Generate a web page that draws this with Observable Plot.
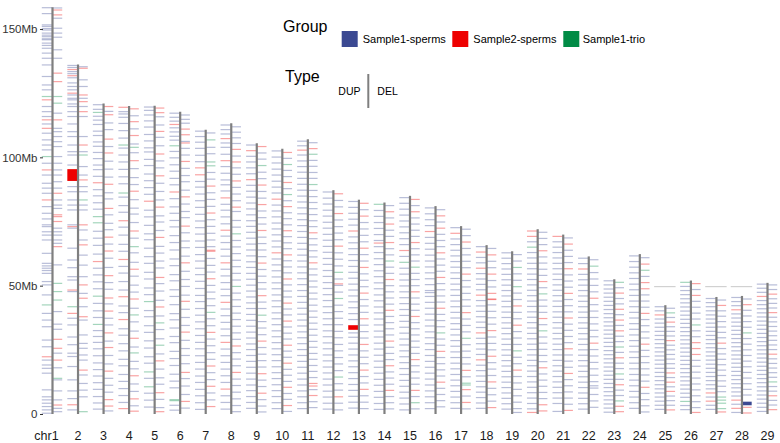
<!DOCTYPE html>
<html><head><meta charset="utf-8">
<script src="https://cdn.jsdelivr.net/npm/d3@7"></script>
<script src="https://cdn.jsdelivr.net/npm/@observablehq/plot@0.6"></script>
<style>
body{margin:0;background:#fff;font-family:"Liberation Sans",Arial,sans-serif}
#wrap{position:relative;width:780px;height:443px}
#legend{position:absolute;left:0;top:0}
</style></head><body><div id="wrap"></div>
<script>
const chromosomes = ["chr1","2","3","4","5","6","7","8","9","10","11","12","13","14","15","16","17","18","19","20","21","22","23","24","25","26","27","28","29"];
const chrLengths = [158.5,136.2,121.0,120.0,120.1,117.8,110.7,113.3,105.5,103.3,107.0,87.2,83.5,82.4,85.0,81.0,73.2,65.8,63.4,72.0,69.9,61.4,52.5,62.3,42.4,52.0,45.6,46.0,51.1];
const groups = ["Sample1-sperms","Sample2-sperms","Sample1-trio"];
const groupColors = ["#3B4992","#EE0000","#008B45"];
const groupCodes = {b:"Sample1-sperms", r:"Sample2-sperms", g:"Sample1-trio"};
const yTicks = [0,50,100,150];
const greyBandChrs = [25,27,28];
const greyBandPos = 49.8;

// CNV positions in Mb (start or start-end) + group code, left side = DUP
const dupMarks = [
"158.3b 156b 151.6b 151b 150.2b 149.6b 148.4b 147.6b 147b 146.2b 145.8b 144.5b 143.6b 142.5b 140.6b 138.6b 136b 131.5b 128.2b 126.3b 123.7g 122.4r 119.8b 117.8b 115.9b 114.6r 113b 111.3r 109.4b 106.8b 104.8b 102.9b 100.3g 97.7b 95.1r 93.1b 89.9b 88b 86b 83.4r 80.8b 78.2b 76b 73.7b 73b 71b 69.7b 67.8b 62.6b 58.7b 57.7b 56.8b 55.9b 54.8b 51.6b 50.3b 46.4b 42.5g 39.2b 36.6b 34b 28.8b 26.2b 22.3r 21b 19.1b 17.8b 15.9b 9.4b 6.7b 5.5b 4.2b 2.9b 1.6b 0.3b",
"135.8b 135b 134.2r 133.4b 132.6b 131.8r 131b 129b 127.6b 126.3b 125r 124.3b 123b 122.4b 120.8b 119.8b 117.8b 115.9b 113b 110b 108.1b 104.8b 102.2b 100.9b 97b 90.8-95.4r 88.6b 86.6b 83.4b 81.4b 79.5b 73.7b 73r 72.4b 64.6b 60b 57b 53.5b 52.2b 48.3r 47.7b 41.8g 39.2r 37.3b 34.7b 30b 27b 23.7b 22.4b 18.5b 13.3b 9b 6b 3.6r 1.6b",
"120.5b 118.7b 117.5g 116b 114.5b 112.8b 110.2b 108.5b 106b 104.3b 101.9b 99.5b 97b 95.2b 92.6b 90.1r 87.4b 85b 82.3b 79.8b 76.9g 74.5g 71.2b 68.5b 65.7b 62.3b 59.4r 56.8b 54.2b 51.5b 48.8b 45.9g 43.1b 40.2b 37.6b 34.9g 32.5b 30.2b 27.9b 25.4b 22.7b 19.9b 17.3b 14.8b 12.2b 9.6b 6.8b 4.3b 1.9b",
"119.5r 117.8b 116.9b 115.6b 113.2b 110.4b 107.5b 104.8g 103.6b 100.9b 98.2b 95.3b 92.4b 89.7b 86.1g 84.5b 81.2b 78.6b 75.3r 72.8b 69.7b 66.1b 63.4b 60.2r 57.5b 54.9b 51.6b 48.3b 45.7r 42.1b 39.5b 36.8r 33.2b 30.7b 27.4b 24.6b 21.3b 18.8b 15.4b 12.7b 9.9b 7.2b 4.5b 2.1r",
"119.6b 118.3b 116.5b 114.2b 111.8b 108.9b 106.4b 103.7b 102.1b 99.2b 96.8b 93.5b 90.9b 88.2b 85.6b 82.9r 79.4b 76.8b 73.5b 70.2b 67.9b 64.6b 61.3b 58.7b 55.2b 52.6b 49.1b 46.5b 43.8g 40.3b 37.9b 34.4b 31.8b 28.5b 25.7b 22.3b 19.8b 16.4g 13.9b 10.6g 8.1b 5.4b 2.7b",
"117.2b 115.6b 114.1b 112.8r 111.5b 109.9b 108.2b 106.7b 104.5g 102.3b 99.8b 97.1b 94.6b 91.8b 89.3b 86.5r 83.9b 80.7b 78.2b 75.4b 72.9b 69.5b 66.8b 63.9b 60.4b 57.8b 54.3b 51.9b 48.4b 45.8b 42.6b 39.1b 36.7b 33.5b 30.2b 27.8b 24.4b 21.6b 18.9b 15.5b 12.8b 10.2b 5.6g 5.2g 3.4b 1.5b",
"110.2b 108.1b 105.9b 103.5b 100.8b 98.3b 95.9r 93.2r 90.6b 88.4b 85.7b 83.1b 80.5b 77.8b 75.2b 72.6b 70.1b 67.4b 64.9b 62.1b 59.6b 56.8b 54.3b 51.7b 48.9b 46.2b 43.8b 41.1b 38.5b 35.9b 33.2b 30.6b 27.9b 25.4b 22.7b 20.1b 17.5b 14.8b 12.3b 9.6b 7.1b 4.4b 1.8b",
"112.6b 110.8b 109.1b 107.3r 105.6b 103.9b 101.2b 98.7r 96.4b 93.8b 91.2b 89.3b 86.9b 84.2r 81.7b 79.4b 76.8b 74.1b 71.6r 69.3b 66.8b 64.2b 61.5b 58.9r 56.4b 53.8b 51.2b 48.6b 46.1b 43.5r 40.9b 38.3b 35.7b 33.1b 30.5b 27.9r 25.3b 22.7b 20.1b 17.5b 14.9b 12.3b 9.7r 7.1b 4.5b 1.9b",
"104.8b 102.6r 100.4b 98.2b 95.9b 93.6b 91.3r 89.1b 86.8b 84.5b 82.2b 79.9b 77.6b 75.3b 73.1b 70.8b 68.5b 66.2b 63.9b 61.6b 59.3b 57.1b 54.8b 52.5b 50.2b 47.9b 45.6b 43.3b 41.1b 38.8b 36.5b 34.2b 31.9b 29.6b 27.3b 25.1b 22.8b 20.5b 18.2b 15.9b 13.6b 11.3b 9.1b 6.8b 4.5b 2.2b",
"102.5b 100.1b 97.8b 95.4b 93.1b 90.7b 88.4b 86.1b 83.7r 81.4b 79.1b 76.8b 74.4b 72.1b 69.8b 67.4b 65.1b 62.8r 60.4b 58.1b 55.8b 53.4b 51.1b 48.8b 46.4b 44.1b 41.8b 39.4b 37.1b 34.8b 32.4b 30.1b 27.8b 25.4b 23.1b 20.8b 18.4b 16.1b 13.8b 11.4b 9.1b 6.8b 4.4b 2.1b",
"106.3b 104.5b 102.8r 100.9b 98.6b 96.4b 94.2b 91.8b 89.5b 87.2b 84.9b 82.6b 80.3b 78b 75.7b 73.4b 71.1b 68.8b 66.5b 64.2b 61.9b 59.6b 57.3b 55b 52.7b 50.4b 48.1b 45.8b 43.5b 41.2b 38.9b 36.6b 34.3b 32b 29.7b 27.4b 25.1b 22.8b 20.5b 18.2b 15.9b 13.6b 11.3b 9b 6.7b 4.4b 2.1b",
"86.5b 84.1b 81.8b 79.4b 77.1b 74.7b 72.4b 70b 67.7b 65.3b 63b 60.6b 58.3b 55.9b 53.6b 51.2b 48.9b 46.5b 44.2b 41.8b 39.5b 37.1b 34.8b 32.4b 30.1b 27.7b 25.4b 23b 20.7b 18.3b 16b 13.6b 11.3b 8.9b 6.6b 4.2b 1.9b",
"82.8b 80.5b 78.2b 75.9b 73.6b 71.3r 69b 66.7b 64.4b 62.1b 59.8b 57.5b 55.2b 52.9b 50.6b 48.3b 46b 43.7b 41.4b 39.1b 36.8b 32.8-34.6r 31.6b 29.9b 27.6b 25.3b 23b 20.7b 18.4b 16.1b 13.8b 11.5b 9.2b 6.9b 4.6b 2.3b",
"81.7g 79.3b 77b 74.6b 72.3b 69.9b 67.6b 66.6r 65.2b 62.9b 60.5b 58.2b 55.8b 53.5b 51.1b 48.8b 46.4b 44.1b 41.7b 39.4b 37b 34.7b 32.3b 30b 27.6b 25.3b 22.9b 20.6b 18.2b 15.9b 13.5b 11.2b 8.8b 6.5b 4.1b 1.8b",
"84.3b 82.1b 79.8b 77.5b 75.2b 72.9b 70.6b 68.3b 66b 63.7r 61.4b 59.1g 56.8b 54.5b 52.2b 49.9b 47.6b 45.3b 43b 40.7b 38.4b 36.1b 33.8b 31.5b 29.2b 26.9b 24.6b 22.3b 20b 17.7b 15.4b 13.1b 10.8b 8.5b 6.2b 3.9b 1.6b",
"80.3b 78b 75.7b 73.4b 71.1r 68.8b 66.5b 64.2b 61.9b 59.6b 57.3b 55b 52.7b 50.4b 48.1b 47.3b 45.8b 43.5b 41.2b 38.9b 36.6b 34.3b 32b 29.7b 27.4b 25.1b 22.8b 20.5b 18.2b 15.9b 13.6b 11.3b 9b 6.7b 4.4b 2.1b",
"72.6b 70.4r 68.2b 66b 63.8b 61.6b 59.4b 57.2b 55b 52.8b 50.6b 48.4b 46.2b 44b 41.8b 39.6b 37.4b 35.2b 33b 30.8b 28.6b 26.4b 24.2b 22b 19.8b 17.6b 15.4b 13.2b 11b 8.8b 6.6b 4.4b 2.2b",
"65.2b 63.1r 61b 58.9b 56.8r 54.7b 52.6b 50.5b 48.4b 46.3r 44.2b 42.1b 40b 37.9b 35.8b 33.7b 31.6r 29.5b 27.4b 25.3b 23.2b 21.1r 19b 16.9b 14.8b 12.7b 10.6b 8.5b 6.4b 4.3b 2.2b",
"62.8b 60.7b 58.6b 56.5b 54.4b 52.3b 50.2b 48.1b 46b 43.9b 41.8b 39.7b 37.6b 35.5b 33.4b 31.3b 29.2b 27.1b 25b 22.9b 20.8b 18.7b 16.6b 14.5b 12.4b 10.3b 8.2b 6.1b 4b 1.9b",
"71.3r 69.2r 67.1b 65g 62.9b 60.8b 58.7b 56.6b 54.5b 52.4b 50.3b 48.2b 46.1b 44b 41.9b 39.8b 37.7b 35.6b 33.5b 31.4b 29.3b 27.2b 25.1b 23b 20.9b 18.8b 16.7b 14.6b 12.5b 10.4b 8.3b 6.2b 4.1b 2b 0.6r",
"69.2r 67.1b 65b 62.9b 60.8b 58.7b 56.6b 54.5b 52.4b 50.3b 48.2b 46.1b 44b 41.9b 39.8b 37.7b 35.6b 33.5b 31.4b 29.3b 27.2b 25.1b 23b 20.9b 18.8b 16.7b 14.6b 12.5b 10.4b 8.3b 6.2b 4.1b 1b",
"60.7b 58.6b 56.5r 54.4b 52.3b 50.2b 48.1b 46b 43.9b 41.8b 39.7b 37.6b 35.5b 33.4b 31.3b 29.2b 27.1b 25b 22.9b 20.8b 18.7b 16.6b 14.5b 12.4b 10.3b 8.2b 6.1b 4b 1.9b",
"51.9b 50.3b 48.7b 47.1b 45.5b 43.9b 42.3b 40.7b 39.1b 37.5b 35.9b 34.3b 32.7b 31.1b 29.5b 27.9b 26.3b 24.7b 23.1b 21.5b 19.9b 18.3b 16.7b 15.1b 13.5b 11.9b 10.3b 8.7b 7.1b 5.5b 3.9b 2.3b 0.7b",
"61.6b 59.4b 57.2b 55b 52.8b 50.6b 48.4b 46.2b 44b 41.8b 39.6b 37.4b 35.2b 33b 30.8b 28.6b 26.4b 24.2b 22b 19.8b 17.6b 15.4b 13.2b 11b 8.8b 6.6b 4.4b 2.2b",
"41.8b 40.2b 38.6r 37b 35.4b 33.8b 32.2b 30.6b 29b 27.4b 25.8b 24.2b 22.6b 21b 19.4b 17.8b 16.2b 14.6b 13b 11.4b 9.8b 8.2b 6.6b 5b 3.4b 1.8b",
"51.3g 49.7b 48.1b 46.5b 44.9b 43.3b 41.7b 40.1b 38.5b 36.9b 35.3b 33.7b 32.1b 30.5b 28.9b 27.3b 25.7b 24.1b 22.5b 20.9b 19.3b 17.7b 16.1b 14.5b 12.9b 11.3b 9.7b 8.1b 6.5b 4.9g 3.3b 1.7b",
"45b 43.4b 41.8b 40.2b 38.6b 37b 35.4b 33.8b 32.2b 30.6b 29b 27.4b 25.8b 24.2b 22.6b 21b 19.4b 17.8b 16.2b 14.6b 13b 11.4b 9.8b 8.2r 6.6b 5r 3.4b 1.8b",
"45.4b 43.8b 42.2b 40.6r 39b 37.4b 35.8b 34.2b 32.6b 31b 29.4b 27.8b 26.2b 24.6b 23b 21.4b 19.8b 18.2b 16.6b 15b 13.4b 11.8b 10.2b 8.6b 7b 5.4r 3.8b 2.2r 0.6b",
"50.6b 49b 47.4b 45.8r 44.2b 42.6b 41b 39.4b 37.8b 36.2b 34.6b 33b 31.4b 29.8b 28.2b 26.6b 25b 23.4b 21.8b 20.2b 18.6b 17b 15.4b 13.8b 12.2b 10.6b 9b 7.4b 5.8b 4.2b 2.6b 1b"
];
// right side = DEL
const delMarks = [
"158.2b 157.4r 155.5r 154.2b 150.3b 148.4b 146.8b 141.9b 138.6b 132.8r 129.5r 123.7g 121.1g 117.2b 114.6r 111.3b 110b 108.1b 106.1b 104.2b 100.3b 97.7b 95.1b 93.1b 90.5b 88b 86r 83.4b 81.4b 80.1b 77.6r 76.9r 75r 72.4b 71b 69.7b 67.8b 66.5b 65.2r 58.1b 50.9g 47.7g 44.4g 39.9b 35b 33b 29.1r 25.6r 23.7b 21r 18b 13.9g 13.3b 9b 5.5b 3.5r 2.2b 0.9b",
"135.3b 134.7r 130.2b 127.6b 124.3r 123b 121.7r 119.8b 117.8r 115.9b 108.1b 104.8r 102.2b 100.9g 96.4b 93.1b 91.2r 88.6b 86.6b 83.4g 81.4b 79.5b 73.7r 71.7b 67.8b 65.9r 61.9b 58b 53.5b 50.3r 47b 45.1r 41.8b 37.9r 36.6b 30.8b 27.5b 25.6b 23b 21b 17.1r 15.2b 11.9b 9.3b 6.7b 0.9g",
"119.8r 117.9b 116.6r 113.4b 110.8b 107.1r 104.2b 101.7r 98.5b 95.4b 92.3b 89.5r 86.2b 83.8b 80.1r 77.6b 74.3b 71.8b 68.9r 66.2b 63.5r 60.7b 57.1b 53.9r 51.2b 48.6b 45.2r 42.9b 40.1r 37.3b 34.7b 31.6r 28.4b 25.9r 22.8b 19.5b 16.7r 13.9b 11.2b 8.5b 5.6r 3.1r 1.2b",
"118.9r 116.2b 113.9r 111.1b 108.5r 105.2b 103.9g 101.8b 98.7r 95.6b 92.1b 89.4b 86.8r 83.5b 80.2b 77.9b 74.6b 71.3r 68.5b 65.2g 62.8b 59.1b 56.4r 53.7b 50.2b 47.5b 44.8r 41.2b 38.6g 35.9b 32.3b 29.5r 26.1b 23.8g 20.5b 17.6b 14.9r 11.7b 8.8b 5.9r 3.2b 1.1r",
"119.2r 117.4r 115.8b 112.6b 110.1r 107.8b 104.5b 101.3r 98.6b 95.9b 92.8r 89.9b 86.7b 83.4b 80.6r 77.2b 74.8b 71.5b 68.8r 65.3b 62.7b 59.6b 56.9b 53.2r 50.8b 47.9b 44.3b 41.7r 38.2b 35.5g 32.9b 29.3b 26.8g 23.4b 20.7r 17.5b 14.1b 11.6b 8.3r 5.7b 2.5b 0.9r",
"116.5b 114.8b 113.3b 111r 108.8r 106.2b 105.6r 103.5b 100.9b 98.4r 95.7b 92.9b 90.5b 87.2b 84.6r 81.8b 78.9b 76.5b 73.2r 70.6b 67.4b 64.8b 61.5b 58.9r 55.6b 52.4b 49.7b 46.3b 43.9r 40.8b 37.6b 34.5b 31.9r 28.7b 25.5b 22.8b 19.6b 16.2r 13.8b 10.9b 7.6b 4.9r 2.3b",
"109.5b 106.8g 103.9b 101.4b 98.2g 96.7g 94.1b 91.5b 88.8r 86.2b 83.6b 80.9b 78.3r 75.7b 73.1b 70.4b 67.8b 65.2b 63.8r 63.4r 60.6b 57.9b 55.3b 52.7r 50.1b 47.5b 44.9b 42.2b 39.6g 37.1b 34.4b 31.8r 29.2b 26.6b 23.9b 21.3b 18.7r 16.1b 13.4b 10.8r 8.2b 5.5b 2.9r",
"111.9b 109.8b 107.6b 105.4b 103.1r 100.5b 98.2r 95.9b 93.4b 90.8r 88.3b 85.7b 83.1b 80.6r 78.9b 75.4b 72.8b 70.2g 67.6b 65.1b 62.5b 59.9b 57.4b 54.8b 52.2b 49.7g 47.1b 44.5b 41.9b 39.3b 36.8b 34.2b 31.6b 29.1b 26.5r 23.9b 21.4b 18.8b 16.2r 13.6b 11.1b 8.5b 5.9b 3.3b 0.9b",
"104.2r 101.7b 99.3b 96.8g 94.2b 91.7b 89.2r 86.7b 84.1b 81.6r 79.1b 76.5b 74b 71.5r 68.9b 66.4b 63.9b 61.3b 58.8r 56.3b 53.7b 51.2b 48.7b 46.1r 43.6b 41.1b 38.5g 36b 33.5b 30.9b 28.4r 25.9b 23.3b 20.8b 18.3b 15.7r 13.2b 10.7b 8.1r 5.6b 3.1b 0.8b",
"101.9r 99.6b 97.2g 94.9b 92.5b 90.2r 87.8b 85.5g 83.1b 80.8r 78.4b 76.1b 73.7b 71.4r 69.1b 66.7b 64.4b 62r 59.7b 57.3b 55b 52.6r 50.3b 47.9b 45.6b 43.2r 40.9b 38.6b 36.2r 33.9b 31.5b 29.2b 26.8r 24.5b 22.1b 19.8r 17.4b 15.1b 12.7b 10.4r 8b 5.7b 3.3r 1b",
"105.7b 103.4r 101.2g 98.8b 96.5b 94.1b 91.8b 89.4g 87.1b 84.7b 82.4b 80b 77.7b 75.3b 73b 70.6r 68.3b 65.9b 63.6b 61.2b 58.9r 56.5b 54.2b 51.8b 49.5b 47.1b 44.8b 42.4b 40.1b 37.7b 35.4b 33b 30.7b 28.3b 26b 23.6b 21.3b 18.9b 16.6b 14.2b 11.9r 10.9r 9.5b 7.2r 4.8b 2.5b",
"85.8r 83.2b 80.7b 78.1r 75.6b 73b 70.5b 67.9b 65.4r 62.8b 60.3b 57.7b 55.2g 52.6b 50.7r 50.1b 47.5b 45g 42.4b 39.9b 37.3b 34.8b 32.2b 29.7b 27.1b 24.6b 22b 19.5b 16.9b 14.4g 11.8b 9.3b 6.7r 4.2b 1.6b",
"82.1r 79.6b 77.1r 74.6b 72.1b 69.6b 67.1b 64.6r 62.1b 59.6b 57.1r 54.6b 52.1b 49.6b 47.1r 44.6b 42.1b 39.6b 37.1r 34.6b 32.1b 29.6b 27.1r 24.6b 22.1b 19.6b 17.1r 14.6b 12.1b 9.6r 7.1b 4.6b 2.1b",
"81.2b 78.8r 76.4b 74r 71.6b 69.2b 66.8r 64.4b 62b 59.6g 57.2b 54.8b 52.4r 50b 47.6b 45.2b 42.8b 40.4r 38b 35.6b 33.2b 30.8b 28.4r 26b 23.6b 21.2b 18.8r 16.4b 14b 11.6b 9.2r 6.8b 4.4b 2b",
"83.6r 81.2b 78.8r 76.4b 74b 71.6b 69.2b 66.8r 64.4b 62b 59.6b 57.2g 54.8b 52.4b 50b 47.6r 45.2b 42.8b 40.4b 38r 35.6b 33.2b 30.8b 28.4b 26b 23.6b 21.2r 18.8b 16.4b 14b 11.6b 9.2r 6.8b 4.4g 2b",
"79.6b 77.2r 74.8b 72.4r 70b 67.6b 65.2b 62.8r 60.4b 58b 55.6b 53.2r 50.8b 48.4b 46b 43.6b 41.2r 38.8b 36.4b 34b 31.6g 29.2b 26.8b 24.4r 22b 19.6b 17.2b 14.8b 12.4r 10b 7.6b 5.2b 2.8b",
"72b 69.5b 67r 64.5b 62b 59.5b 57b 54.5r 52b 49.5b 47b 44.5b 42b 39.5r 37b 34.5b 32b 29.5g 27b 24.5b 22b 19.5b 17r 14.5b 12g 11.3g 9.5r 7b 4.5r 2b",
"64.5b 62r 59.5b 57b 54.5r 52b 49.5b 47r 44.8r 44.6r 42.5b 40b 37.5b 35b 32.5r 30b 27.5b 25b 22.5r 20b 17.5b 15b 12.5r 10b 7.5b 5b 2.5r",
"62.1b 59.6b 57.1g 54.6b 52.1b 49.6g 47.1b 44.6b 42.1r 39.6b 37.1b 34.6r 32.1b 29.6b 27.1b 24.6g 22.1b 19.6b 17.1r 14.6b 12.1b 9.6b 7.1b 4.6b 2.1b 0.6b",
"70.8b 68.4b 66b 63.6r 61.2b 58.8b 56.4b 54b 51.6r 49.2b 46.8g 44.4b 42b 39.6b 37.2r 34.8b 32.4g 30b 27.6b 25.2b 22.8b 20.4b 18r 15.6b 13.2b 10.8b 8.4b 6b 3.6r 1.2r",
"68.6b 66.2r 63.8b 61.4b 59b 56.6r 54.2b 51.8b 49.4b 47r 44.6b 42.2b 39.8b 37.4r 35b 32.6b 30.2b 27.8b 25.4r 23b 20.6b 18.2b 15.8r 13.4b 11b 8.6b 6.2b 3.8b 1.4r",
"60.1b 57.6g 55.1b 52.6b 50.1b 47.6b 45.1r 42.6b 40.1b 37.6b 35.1b 32.6b 30.1b 27.6r 25.1b 22.6b 20.1b 17.6b 15.1b 12.6b 11b 10.1b 7.6b 5.1b 2.6b",
"51.3g 49.2b 47.1r 45b 42.9b 40.8r 38.7b 36.6r 34.5b 32.4r 30.3b 28.2b 26.1g 24b 21.9r 19.8b 17.7b 15.6g 13.5b 11.4r 9.3b 7.2b 5.1g 3r 0.9r",
"60.9b 58.4r 56g 53.6b 51.2r 48.8r 46.4b 44b 41.6b 39.2r 36.8b 34.4b 32b 29.6b 27.2r 24.8b 22.4b 20b 17.6b 15.2b 12.8b 10.4r 8b 5.6b 3.2b 0.8b",
"41.2b 39.4g 37.6b 35.8r 34b 32.2b 30.4b 28.6r 26.8b 25b 23.2b 21.4b 19.6b 17.8b 16r 14.2b 12.4r 10.6b 8.8r 7b 5.2b 3.4b 1.6r",
"50.8r 48.5b 46.2r 43.9b 41.6b 39.3b 37b 34.7g 32.4b 30.1b 27.8r 25.5r 23.2r 20.9b 18.6b 16.3b 14b 11.7b 9.4b 7.1b 4.8b 2.5b 0.6r",
"44.4b 42.3r 40.2b 38.1b 36b 33.9b 31.8b 29.7b 27.6r 25.5b 23.4b 21.3b 19.2b 17.1b 15b 12.9b 10.8b 8.7b 6.6g 5.4g 4.2g 2.1g 0.8r",
"44.8b 42.6r 40.4b 38.2b 36b 33.8b 31.6g 29.4b 27.2b 25b 22.8b 20.6b 18.4b 16.2b 14b 11.8b 9.6b 7.4b 3.4-4.8b 2.6r 0.4r",
"50.3b 48.5b 46.7r 44.9b 43.1b 41.3b 39.5r 37.7b 35.9b 34.1b 32.3b 30.5b 28.7b 26.9b 25.1b 23.3r 21.5b 19.7b 17.9b 16.1b 14.3b 12.5g 10.7b 8.9b 7.1r 5.3b 3.5b 1.7r"
];

function parseMarks(list, type) {
  const out = [];
  list.forEach((s, i) => {
    s.trim().split(/\s+/).forEach(tok => {
      const m = tok.match(/^(\d+(?:\.\d+)?)(?:-(\d+(?:\.\d+)?))?([brg])$/);
      if (!m) return;
      const start = +m[1], end = m[2] ? +m[2] : +m[1];
      out.push({chr: i + 1, start, end, group: groupCodes[m[3]], type, big: !!m[2]});
    });
  });
  return out;
}
const cnv = parseMarks(dupMarks, "DUP").concat(parseMarks(delMarks, "DEL"));
const small = cnv.filter(d => !d.big);
const big = cnv.filter(d => d.big);
const chrData = chromosomes.map((c, i) => ({chr: i + 1, label: c, len: chrLengths[i]}));

const sideX1 = d => d.chr + (d.type === "DUP" ? -0.4 : 0);
const sideX2 = d => d.chr + (d.type === "DUP" ? 0 : 0.4);

const chart = Plot.plot({
  width: 780, height: 443,
  marginLeft: 43, marginRight: 0, marginTop: 0, marginBottom: 29,
  x: {domain: [0.6476, 29.509], axis: null},
  y: {domain: [0, 161.3], axis: null},
  color: {domain: groups, range: groupColors},
  style: {fontFamily: "'Liberation Sans', Arial, sans-serif", background: "white", color: "#333"},
  marks: [
    Plot.rect(small, {x1: sideX1, x2: sideX2, y1: "start", y2: "end", fill: "group", fillOpacity: 0.36, insetTop: -0.6, insetBottom: -0.6}),
    Plot.rect(big, {x1: sideX1, x2: sideX2, y1: "start", y2: "end", fill: "group", fillOpacity: 1}),
    Plot.ruleY(greyBandChrs, {y: () => greyBandPos, x1: d => d - 0.42, x2: d => d + 0.42, stroke: "#c8c8c8", strokeWidth: 1}),
    Plot.ruleX(chrData, {x: "chr", y1: 0, y2: "len", stroke: "#7f7f7f", strokeWidth: 2.2}),
    Plot.axisY(yTicks, {tickFormat: d => d === 0 ? "0" : d + "Mb", tickSize: 3, tickPadding: 3, fontSize: 11.5}),
    Plot.text(chrData.filter(d => d.chr === 1), {x: "chr", y: () => 0, text: "label", dy: 21.5, dx: -6, fontSize: 12.5, fill: "#1a1a1a"}),
    Plot.text(chrData.filter(d => d.chr !== 1), {x: "chr", y: () => 0, text: "label", dy: 21.5, fontSize: 12.5, fill: "#1a1a1a"})
  ]
});
const wrap = document.getElementById("wrap");
wrap.appendChild(chart);

// legend overlay
const ns = "http://www.w3.org/2000/svg";
const lg = document.createElementNS(ns, "svg");
lg.setAttribute("id", "legend");
lg.setAttribute("width", 780); lg.setAttribute("height", 120);
lg.style.fontFamily = "'Liberation Sans', Arial, sans-serif";
function add(tag, attrs, text) {
  const el = document.createElementNS(ns, tag);
  for (const k in attrs) el.setAttribute(k, attrs[k]);
  if (text != null) el.textContent = text;
  lg.appendChild(el); return el;
}
add("text", {x: 283, y: 31.5, "font-size": 16, fill: "#000"}, "Group");
const keyX = [341.7, 452.3, 563.3];
const labX = [362.7, 473.3, 582.7];
groups.forEach((g, i) => {
  add("rect", {x: keyX[i], y: 31, width: 16, height: 16, fill: groupColors[i]});
  add("text", {x: labX[i], y: 42.8, "font-size": 11, fill: "#000"}, g);
});
add("text", {x: 285, y: 81.5, "font-size": 16, fill: "#000"}, "Type");
add("text", {x: 338.3, y: 94.5, "font-size": 10.5, fill: "#000"}, "DUP");
add("line", {x1: 368.3, x2: 368.3, y1: 74, y2: 108, stroke: "#7f7f7f", "stroke-width": 2});
add("text", {x: 377.3, y: 94.5, "font-size": 10.5, fill: "#000"}, "DEL");
wrap.appendChild(lg);
</script></body></html>
